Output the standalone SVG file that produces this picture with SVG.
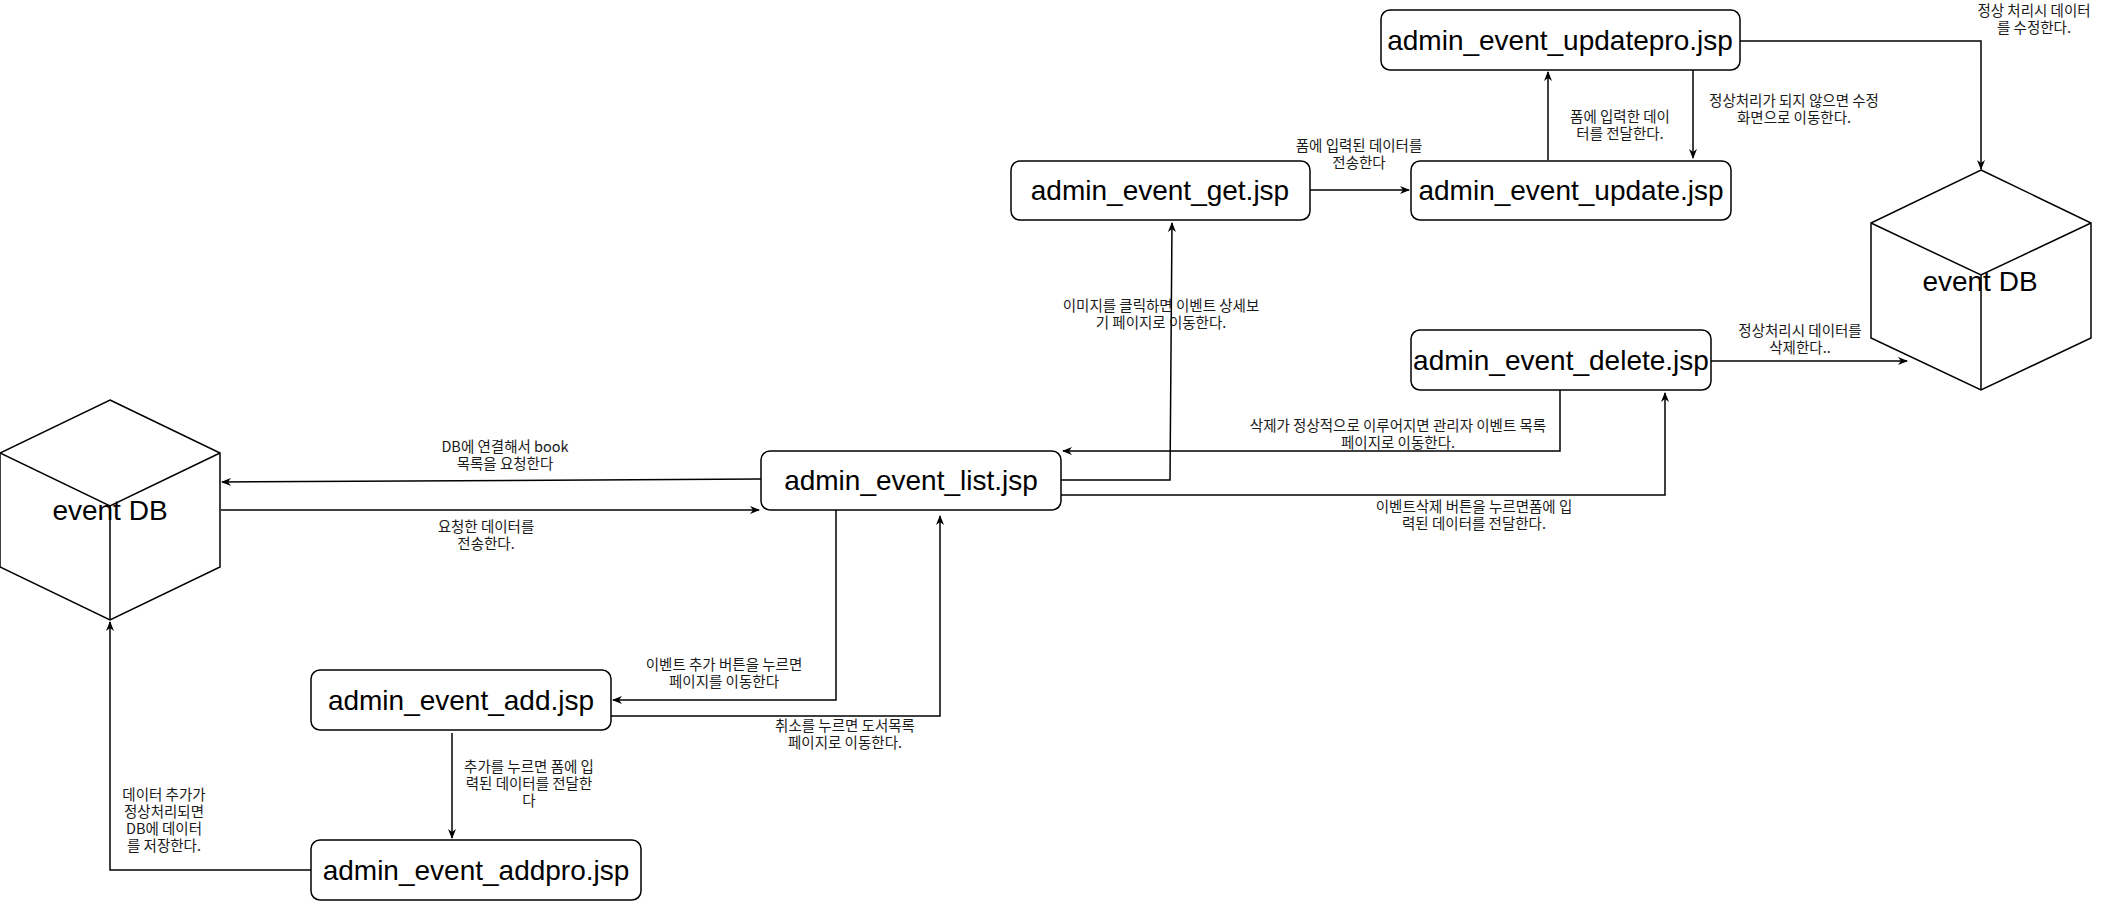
<svg xmlns="http://www.w3.org/2000/svg" width="2101" height="901" viewBox="0 0 2101 901">
  <defs>
    <style>
      .node rect { fill: #ffffff; stroke: #000000; stroke-width: 1.5; }
      .node text { font-family: "Liberation Sans", Arial, sans-serif; font-size: 28px; fill: #000000; text-anchor: middle; }
      .cube path { fill: #ffffff; stroke: #000000; stroke-width: 1.5; stroke-linejoin: miter; }
      .edge { fill: none; stroke: #000000; stroke-width: 1.5; marker-end: url(#arrow); }
      .lbl { font-family: "Noto Sans CJK KR", "Noto Sans", sans-serif; font-size: 14.5px; fill: #1a1a1a; text-anchor: middle; }
    </style>
    <marker id="arrow" viewBox="0 0 10 8" refX="9" refY="4" markerWidth="10" markerHeight="8" markerUnits="userSpaceOnUse" orient="auto">
      <path d="M0,0 L10,4 L0,8 L3,4 Z" fill="#000000"/>
    </marker>
  </defs>
  <rect x="0" y="0" width="2101" height="901" fill="#ffffff"/>

  <!-- connectors -->
  <g id="connectors">
    <path class="edge" d="M761,479 L222,482"/>
    <path class="edge" d="M221,510 L759,510"/>
    <path class="edge" d="M1061,480 H1170 L1172,223"/>
    <path class="edge" d="M1310,190 H1409"/>
    <path class="edge" d="M1548,160 V72"/>
    <path class="edge" d="M1693,70 V158"/>
    <path class="edge" d="M1740,41 H1981 V169"/>
    <path class="edge" d="M1711,361 H1907"/>
    <path class="edge" d="M1061,495 H1665 V393"/>
    <path class="edge" d="M1560,390 V451 H1063"/>
    <path class="edge" d="M836,510 V700 H613"/>
    <path class="edge" d="M611,716 H940 V516"/>
    <path class="edge" d="M452,733 V838"/>
    <path class="edge" d="M311,870 H110 V622"/>
  </g>

  <!-- connector labels -->
  <g id="labels">
    <text class="lbl"><tspan x="505" y="452">DB에 연결해서 book</tspan><tspan x="505" y="469">목록을 요청한다</tspan></text>
    <text class="lbl"><tspan x="486" y="532">요청한 데이터를</tspan><tspan x="486" y="549">전송한다.</tspan></text>
    <text class="lbl"><tspan x="1161" y="311">이미지를 클릭하면 이벤트 상세보</tspan><tspan x="1161" y="328">기 페이지로 이동한다.</tspan></text>
    <text class="lbl"><tspan x="1359" y="151">폼에 입력된 데이터를</tspan><tspan x="1359" y="168">전송한다</tspan></text>
    <text class="lbl"><tspan x="1620" y="122">폼에 입력한 데이</tspan><tspan x="1620" y="139">터를 전달한다.</tspan></text>
    <text class="lbl"><tspan x="1794" y="106">정상처리가 되지 않으면 수정</tspan><tspan x="1794" y="123">화면으로 이동한다.</tspan></text>
    <text class="lbl"><tspan x="2034" y="16">정상 처리시 데이터</tspan><tspan x="2034" y="33">를 수정한다.</tspan></text>
    <text class="lbl"><tspan x="1800" y="336">정상처리시 데이터를</tspan><tspan x="1800" y="353">삭제한다..</tspan></text>
    <text class="lbl"><tspan x="1398" y="431">삭제가 정상적으로 이루어지면 관리자 이벤트 목록</tspan><tspan x="1398" y="448">페이지로 이동한다.</tspan></text>
    <text class="lbl"><tspan x="1474" y="512">이벤트삭제 버튼을 누르면폼에 입</tspan><tspan x="1474" y="529">력된 데이터를 전달한다.</tspan></text>
    <text class="lbl"><tspan x="724" y="670">이벤트 추가 버튼을 누르면</tspan><tspan x="724" y="687">페이지를 이동한다</tspan></text>
    <text class="lbl"><tspan x="845" y="731">취소를 누르면 도서목록</tspan><tspan x="845" y="748">페이지로 이동한다.</tspan></text>
    <text class="lbl"><tspan x="529" y="772">추가를 누르면 폼에 입</tspan><tspan x="529" y="789">력된 데이터를 전달한</tspan><tspan x="529" y="806">다</tspan></text>
    <text class="lbl"><tspan x="164" y="800">데이터 추가가</tspan><tspan x="164" y="817">정상처리되면</tspan><tspan x="164" y="834">DB에 데이터</tspan><tspan x="164" y="851">를 저장한다.</tspan></text>
  </g>

  <!-- database cubes -->
  <g id="event-db-left" class="cube node">
    <path d="M110,400 L220,453 L220,567 L110,620 L0,567 L0,453 Z"/>
    <path d="M0,453 L110,506 L220,453 M110,506 L110,620"/>
    <text x="110" y="520">event DB</text>
  </g>
  <g id="event-db-right" class="cube node">
    <path d="M1981,170 L2091,223 L2091,338 L1981,390 L1871,338 L1871,223 Z"/>
    <path d="M1871,223 L1981,275 L2091,223 M1981,275 L1981,390"/>
    <text x="1980" y="291">event DB</text>
  </g>

  <!-- pages -->
  <g id="admin-event-list" class="node">
    <rect x="761" y="451" width="300" height="59" rx="9"/>
    <text x="911" y="490">admin_event_list.jsp</text>
  </g>
  <g id="admin-event-get" class="node">
    <rect x="1011" y="161" width="299" height="59" rx="9"/>
    <text x="1160" y="200">admin_event_get.jsp</text>
  </g>
  <g id="admin-event-update" class="node">
    <rect x="1411" y="161" width="320" height="59" rx="9"/>
    <text x="1571" y="200">admin_event_update.jsp</text>
  </g>
  <g id="admin-event-updatepro" class="node">
    <rect x="1381" y="10" width="359" height="60" rx="9"/>
    <text x="1560" y="50">admin_event_updatepro.jsp</text>
  </g>
  <g id="admin-event-delete" class="node">
    <rect x="1411" y="330" width="300" height="60" rx="9"/>
    <text x="1561" y="370">admin_event_delete.jsp</text>
  </g>
  <g id="admin-event-add" class="node">
    <rect x="311" y="670" width="300" height="60" rx="9"/>
    <text x="461" y="710">admin_event_add.jsp</text>
  </g>
  <g id="admin-event-addpro" class="node">
    <rect x="311" y="840" width="330" height="60" rx="9"/>
    <text x="476" y="880">admin_event_addpro.jsp</text>
  </g>
</svg>
